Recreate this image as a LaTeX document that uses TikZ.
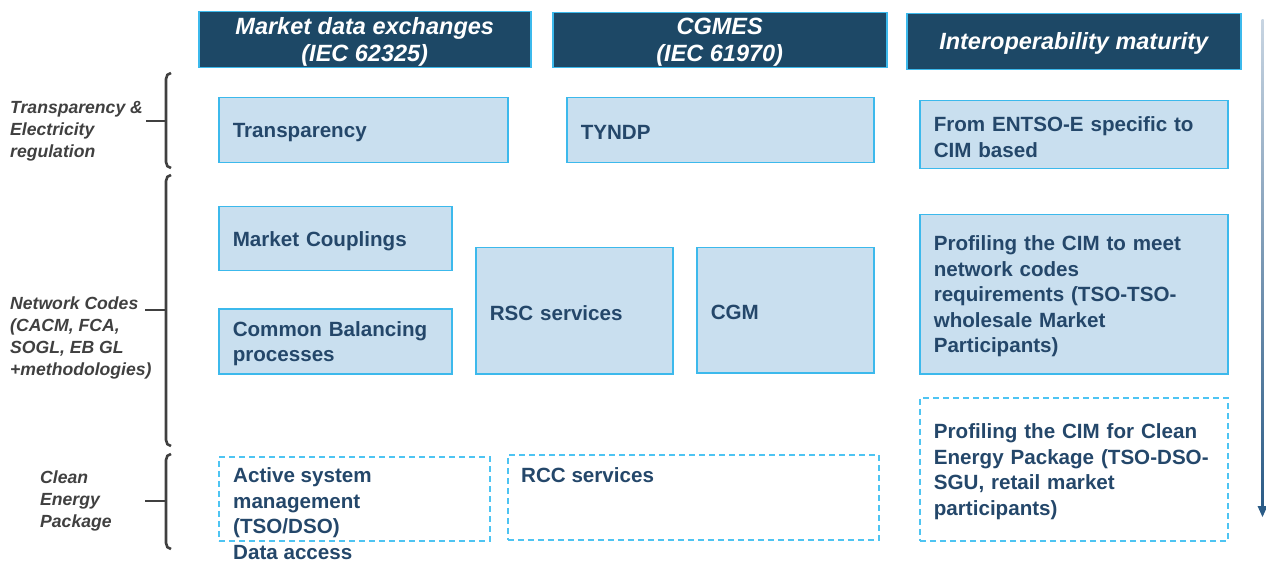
\documentclass[tikz,border=0pt]{standalone}
\usepackage{fontspec}
\setmainfont{Liberation Sans}
\definecolor{hdr}{HTML}{1D4866}
\definecolor{cyanb}{HTML}{3CB9EC}
\definecolor{lfill}{HTML}{C9DFEF}
\definecolor{btxt}{HTML}{24476A}
\definecolor{dashb}{HTML}{4EC4F2}
\definecolor{lbl}{HTML}{404040}
\definecolor{arrtop}{HTML}{C8D5E2}
\definecolor{arrbot}{HTML}{2B5B86}
\begin{document}
\begin{tikzpicture}[x=1pt,y=-1pt,
 hbox/.style={draw=cyanb, fill=hdr, line width=1.5pt, text=white,
   font=\bfseries\itshape\fontsize{23.5}{27.5}\selectfont, align=center,
   anchor=north west, inner sep=0pt},
 lbox/.style={draw=cyanb, fill=lfill, line width=1.5pt, text=btxt,
   font=\bfseries\fontsize{20.6}{25.5}\selectfont, align=left,
   anchor=north west, inner xsep=14pt, inner ysep=0pt,
   execute at begin node={\rule{0pt}{19.5pt}}},
 dbox/.style={draw=dashb, line width=1.8pt, dash pattern=on 6pt off 4pt,
   text=btxt, font=\bfseries\fontsize{20.6}{25.5}\selectfont, align=left,
   anchor=north west, inner xsep=14pt, inner ysep=0pt,
   execute at begin node={\rule{0pt}{19.5pt}}},
 btext/.style={text=btxt, font=\bfseries\fontsize{20.6}{25.5}\selectfont,
   align=left, anchor=north west, inner sep=0pt},
 lab/.style={text=lbl, font=\bfseries\itshape\fontsize{17.6}{22}\selectfont,
   align=left, anchor=west, inner sep=0pt},
 brk/.style={draw=lbl, line width=2.6pt},
]
\useasboundingbox (0,0) rectangle (1266,561);

% headers
\node[hbox, minimum width=332, minimum height=56, text depth=0.5pt] (h1) at (198,11) {Market data exchanges\\(IEC 62325)};
\node[hbox, minimum width=334, minimum height=55, text depth=0.5pt] (h2) at (552,12) {CGMES\\(IEC 61970)};
\node[hbox, minimum width=334, minimum height=56, execute at begin node={\rule{0pt}{21pt}}] (h3) at (906,13) {Interoperability maturity};

% left labels and brackets
\node[lab] (l1) at (10,131) {Transparency \&\\Electricity\\regulation};
\node[lab] (l2) at (10,337.5) {Network Codes\\(CACM, FCA,\\SOGL, EB GL\\+methodologies)};
\node[lab] (l3) at (40,500.5) {Clean\\Energy\\Package};

\coordinate (t1) at (146,121); \coordinate (b1) at (166,121);
\coordinate (t2) at (145,310); \coordinate (b2) at (166,310);
\coordinate (t3) at (145,501); \coordinate (b3) at (166,501);
\draw[brk] (171,73) to[out=180,in=90] (166,79) -- (166,162) to[out=-90,in=180] (171,168);
\draw[brk] (171,175) to[out=180,in=90] (166,181) -- (166,440) to[out=-90,in=180] (171,446);
\draw[brk] (171,454) to[out=180,in=90] (166,460) -- (166,543) to[out=-90,in=180] (171,549);
\draw[brk] (t1) -- (b1);
\draw[brk] (t2) -- (b2);
\draw[brk] (t3) -- (b3);

% light boxes
\node[lbox, text width=261, minimum height=65] (transp) at (218,97) {Transparency};
\node[lbox, text width=279, minimum height=65] (tyndp) at (566,97) {TYNDP};
\node[lbox, text width=280, minimum height=68] (entsoe) at (919,100) {From ENTSO-E specific to\\CIM based};
\node[lbox, text width=205, minimum height=64] (mc) at (218,206) {Market Couplings};
\node[lbox, text width=205, minimum height=65] (cbp) at (218,308) {Common Balancing\\processes};
\node[lbox, text width=169, minimum height=126] (rsc) at (475,247) {RSC services};
\node[lbox, text width=149, minimum height=125] (cgm) at (696,247) {CGM};
\node[lbox, text width=280, minimum height=159] (prof1) at (919,214) {Profiling the CIM to meet\\network codes\\requirements (TSO-TSO-\\wholesale Market\\Participants)};

% dashed boxes
\node[dbox, minimum width=271, minimum height=84] (asm) at (218,456) {};
\node[btext] (asmt) at (233,467.5) {Active system\\management\\(TSO/DSO)\\Data access};
\node[dbox, minimum width=371, minimum height=85] (rcc) at (507,454) {};
\node[btext] (rcct) at (521,467) {RCC services};
\node[dbox, text width=280, minimum height=143] (prof2) at (919,397) {Profiling the CIM for Clean\\Energy Package (TSO-DSO-\\SGU, retail market\\participants)};

% maturity arrow
\coordinate (atop) at (1262.5,20);
\coordinate (abot) at (1262.5,517);
\shade[top color=arrtop, bottom color=arrbot] (1261.5,20) rectangle (1263.6,508);
\fill[arrbot] (1257.5,506) -- (1267.5,506) -- (abot) -- cycle;
\end{tikzpicture}
\end{document}
